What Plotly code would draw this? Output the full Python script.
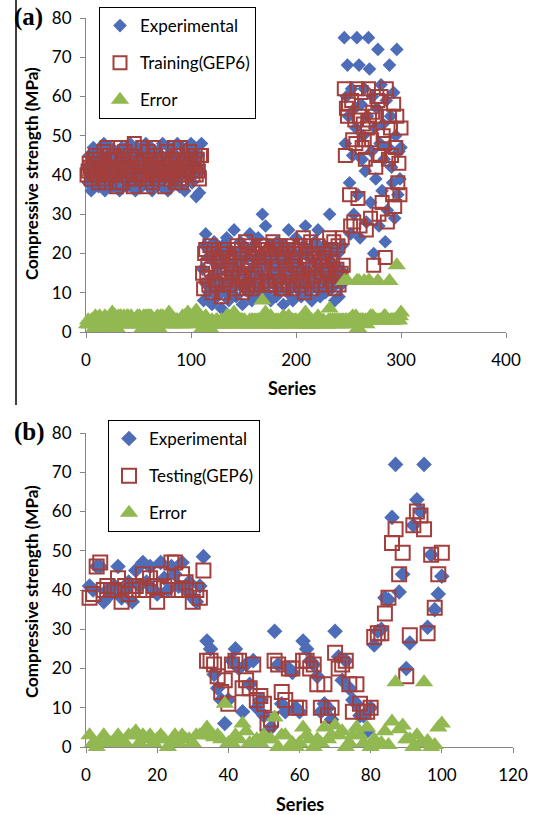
import numpy as np
import plotly.graph_objects as go

# ---------------- (a) training set: 300 mixes ----------------
train_exp = [
    # series 1-110
    42, 38, 45, 40, 36, 44, 47, 39, 41, 43,
    46, 37, 40, 44, 38, 42, 48, 36, 41, 45,
    39, 43, 47, 40, 37, 44, 42, 46, 38, 41,
    45, 36, 43, 47, 40, 39, 44, 42, 37, 46,
    41, 48, 38, 43, 40, 45, 36, 42, 47, 39,
    44, 41, 37, 46, 43, 40, 48, 38, 42, 45,
    39, 47, 36, 44, 41, 43, 38, 46, 40, 42,
    45, 37, 48, 41, 39, 44, 43, 36, 47, 40,
    42, 46, 38, 45, 41, 39, 48, 43, 37, 44,
    40, 47, 42, 36, 45, 41, 46, 39, 43, 48,
    38, 44, 40, 47, 34.5, 42, 45, 35.5, 41, 48,
    # series 111-245
    16, 8, 22, 25, 12, 19, 10, 21, 14, 7,
    18, 23, 11, 15, 9, 20, 13, 17, 6, 22,
    12, 19, 10, 24, 15, 8, 21, 13, 17, 11,
    26, 14, 9, 20, 16, 12, 23, 18, 7, 15,
    11, 21, 13, 19, 10, 25, 16, 8, 22, 14,
    12, 18, 9, 24, 15, 20, 11, 30, 17, 13,
    27, 10, 19, 14, 22, 8, 16, 21, 12, 18,
    9, 23, 15, 11, 20, 13, 17, 7, 22, 14,
    19, 10, 26, 16, 12, 21, 8, 18, 14, 24,
    11, 17, 13, 20, 9, 15, 22, 12, 27, 16,
    10, 19, 14, 21, 8, 18, 12, 23, 15, 11,
    26, 17, 9, 20, 13, 16, 22, 10, 14, 19,
    12, 30, 18, 11, 15, 21, 8, 17, 13, 20,
    9, 16, 12, 22, 14,
    # series 246-300
    75, 48, 60, 68, 55, 38, 25, 62, 45, 30,
    57, 52, 75, 35, 68, 24, 58, 44, 50, 62,
    41, 28, 55, 75, 67, 33, 46, 60, 20, 52,
    39, 57, 72, 27, 48, 63, 36, 53, 44, 23,
    59, 31, 47, 68, 55, 42, 38, 61, 29, 50,
    72, 35, 46, 39, 47,
]

train_gep6 = [
    # series 1-110
    40, 41, 43, 42, 39, 41, 44, 40, 45, 40,
    43, 38, 44, 42, 41, 39, 46, 40, 38, 47,
    42, 40, 45, 41, 42, 40, 45, 42, 37, 44,
    41, 38, 47, 44, 38, 43, 46, 40, 41, 42,
    39, 45, 42, 41, 37, 48, 39, 44, 43, 41,
    40, 43, 40, 47, 39, 42, 44, 37, 46, 41,
    42, 43, 38, 47, 40, 45, 41, 42, 39, 44,
    41, 40, 44, 43, 37, 41, 46, 40, 42, 43,
    39, 44, 41, 47, 38, 42, 45, 41, 39, 47,
    38, 43, 40, 40, 42, 44, 41, 42, 46, 44,
    41, 40, 43, 45, 40, 44, 41, 39, 45, 45,
    # series 111-245
    15, 11, 20, 21, 14, 17, 12, 22, 16, 10,
    20, 21, 13, 12, 12, 18, 15, 19, 9, 20,
    10, 21, 13, 20, 17, 12, 19, 16, 15, 14,
    21, 17, 11, 22, 14, 15, 20, 21, 10, 13,
    14, 23, 11, 17, 12, 22, 18, 11, 19, 12,
    15, 20, 12, 21, 17, 22, 13, 22, 19, 16,
    22, 13, 21, 12, 20, 12, 18, 23, 14, 16,
    12, 21, 18, 13, 22, 11, 20, 11, 19, 16,
    21, 12, 22, 14, 15, 18, 11, 20, 17, 21,
    13, 15, 16, 22, 12, 13, 24, 10, 22, 18,
    13, 17, 16, 23, 11, 20, 14, 20, 17, 13,
    22, 19, 12, 18, 15, 19, 20, 12, 16, 17,
    15, 24, 21, 13, 18, 23, 11, 15, 16, 22,
    12, 14, 15, 24, 17,
    # series 246-300
    62, 45, 57, 55, 58, 35, 27, 59, 49, 28,
    54, 48, 62, 34, 55, 27, 61, 47, 53, 49,
    44, 26, 52, 62, 54, 29, 49, 56, 17, 55,
    42, 60, 59, 30, 45, 60, 33, 50, 48, 19,
    62, 28, 44, 55, 52, 45, 35, 58, 32, 47,
    55, 38, 43, 35, 52,
]

# ---------------- (b) testing set: 100 mixes ----------------
test_exp = [
    41, 40, 46, 46, 37, 40, 39, 41, 46, 38,
    40, 42, 37, 45, 41, 47, 42, 46, 40, 39,
    47, 43, 40, 46, 44, 41, 47, 40, 42, 38,
    37, 41, 48.5, 27, 25, 18.5, 15, 12, 6, 12,
    22, 25, 20, 9, 21, 16, 22, 10, 12, 8,
    4, 5, 29.5, 21, 11, 9, 20, 19, 10, 9,
    27, 25, 22, 21, 18, 9, 11, 10, 7, 29.5,
    23, 17, 22, 15, 12, 11, 8, 8, 4, 10,
    26, 29.5, 30, 38, 37.5, 58.5, 72, 39.5, 44, 20,
    26.5, 56.5, 63, 60, 72, 30.5, 49, 35, 39, 43.5,
]

test_gep6 = [
    38, 39, 46, 47, 40, 41, 40, 40, 43, 37,
    41, 39, 40, 41, 40, 44, 40, 43, 41, 37,
    44, 41, 40, 47, 47, 40, 44, 42, 40, 37,
    40, 38, 45, 22, 22, 21, 18, 14, 17, 11,
    21, 22, 22, 15, 17, 15, 21, 12, 13, 11,
    6, 7, 22, 21, 14, 12, 20, 20, 10, 10,
    22, 22, 20, 21, 16, 10, 16, 8, 10, 24,
    20, 21, 22, 16, 9, 16, 11, 9, 9, 10,
    28, 29, 29, 34, 38, 52, 55.5, 44, 49.5, 18,
    28.5, 56.5, 60, 59, 55.5, 29, 49, 35.5, 44, 49.5,
]

train_x = list(range(1, len(train_exp) + 1))
test_x = list(range(1, len(test_exp) + 1))

# Error = absolute difference between measured and GEP6 prediction
train_err = np.abs(np.array(train_exp) - np.array(train_gep6))
test_err = np.abs(np.array(test_exp) - np.array(test_gep6))

BLUE = "#4E6DB8"
RED = "#A23F3C"
GREEN = "#92B951"
AXIS = "#868686"
FONT = "Lato"

W, H = 535, 815


def px_x(p):
    return p / W


def px_y(p):
    return 1 - p / H


fig = go.Figure()

panels = [
    ("x", "y", "legend", train_x, train_exp, train_gep6, train_err,
     "Training(GEP6)", 10.5, 13, 16),
    ("x2", "y2", "legend2", test_x, test_exp, test_gep6, test_err,
     "Testing(GEP6)", 12, 14, 16),
]

for xa, ya, leg, xs, e, p, err, pname, dsz, ssz, tsz in panels:
    fig.add_trace(go.Scatter(
        x=xs, y=e, mode="markers", name="Experimental",
        xaxis=xa, yaxis=ya, legend=leg, legendgroup=leg + "1",
        cliponaxis=False,
        marker=dict(symbol="diamond", size=dsz, color=BLUE, line=dict(width=0)),
    ))
    fig.add_trace(go.Scatter(
        x=xs, y=p, mode="markers", name=pname,
        xaxis=xa, yaxis=ya, legend=leg, legendgroup=leg + "2",
        cliponaxis=False,
        marker=dict(symbol="square-open", size=ssz, color=RED,
                    line=dict(width=2, color=RED)),
    ))
    fig.add_trace(go.Scatter(
        x=xs, y=err, mode="markers", name="Error",
        xaxis=xa, yaxis=ya, legend=leg, legendgroup=leg + "3",
        cliponaxis=False,
        marker=dict(symbol="triangle-up", size=tsz, color=GREEN, line=dict(width=0)),
    ))

axis_common = dict(
    showline=True, linecolor=AXIS, linewidth=1,
    ticks="outside", tickcolor=AXIS, ticklen=5, tickwidth=1,
    showgrid=False, zeroline=False, layer="below traces",
    tickfont=dict(family=FONT, size=17, color="black"),
)

legend_common = dict(
    xanchor="left", yanchor="top",
    bordercolor="black", borderwidth=1, bgcolor="white",
    traceorder="grouped", tracegroupgap=12,
    font=dict(family=FONT, size=17, color="black"),
)

fig.update_layout(
    width=W, height=H,
    margin=dict(l=0, r=0, t=0, b=0, autoexpand=False),
    paper_bgcolor="white", plot_bgcolor="white",
    xaxis=dict(domain=[px_x(86), px_x(506)], range=[0, 400],
               tickvals=[0, 100, 200, 300, 400], anchor="y",
               ticklabelstandoff=8, **axis_common),
    yaxis=dict(domain=[px_y(332), px_y(18)], range=[0, 80],
               tickvals=list(range(0, 81, 10)), anchor="x",
               ticklabelstandoff=5, **axis_common),
    xaxis2=dict(domain=[px_x(86), px_x(513)], range=[0, 120],
                tickvals=list(range(0, 121, 20)), anchor="y2",
                ticklabelstandoff=8, **axis_common),
    yaxis2=dict(domain=[px_y(747), px_y(433)], range=[0, 80],
                tickvals=list(range(0, 81, 10)), anchor="x2",
                ticklabelstandoff=5, **axis_common),
    legend=dict(x=px_x(99), y=px_y(7), **legend_common),
    legend2=dict(x=px_x(108), y=px_y(420), **legend_common),
    showlegend=True,
)

annotations = []
for label, yc in [("(a)", 17), ("(b)", 432)]:
    annotations.append(dict(
        text=f"<b>{label}</b>", x=px_x(12), y=px_y(yc), xref="paper", yref="paper",
        xanchor="left", yanchor="middle", showarrow=False,
        font=dict(family="Liberation Serif", size=25, color="black"),
    ))
for yc in [174, 592]:
    annotations.append(dict(
        text="<b>Compressive strength (MPa)</b>", x=px_x(31), y=px_y(yc),
        xref="paper", yref="paper", xanchor="center", yanchor="middle",
        textangle=-90, showarrow=False,
        font=dict(family=FONT, size=17, color="black"),
    ))
for xc, yc in [(292, 388), (300, 804)]:
    annotations.append(dict(
        text="<b>Series</b>", x=px_x(xc), y=px_y(yc), xref="paper", yref="paper",
        xanchor="center", yanchor="middle", showarrow=False,
        font=dict(family=FONT, size=18, color="black"),
    ))
fig.update_layout(annotations=annotations)

# frame line on the left edge of panel (a)
fig.add_shape(type="line", xref="paper", yref="paper",
              x0=px_x(16), x1=px_x(16), y0=px_y(405), y1=1,
              line=dict(color="black", width=1.5))

fig.write_html("out.html")
